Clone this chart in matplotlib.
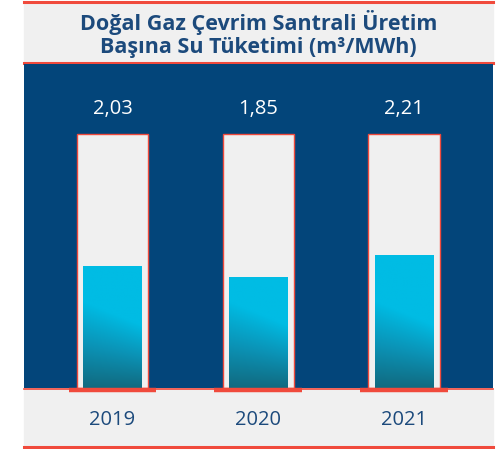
import numpy as np
import matplotlib
matplotlib.use("Agg")
import matplotlib.pyplot as plt
from matplotlib.colors import LinearSegmentedColormap
from matplotlib.patches import Rectangle
from matplotlib.lines import Line2D

years = ["2019", "2020", "2021"]
values = [2.03, 1.85, 2.21]
value_labels = ["2,03", "1,85", "2,21"]
title = "Doğal Gaz Çevrim Santrali Üretim\nBaşına Su Tüketimi (m³/MWh)"

NAVY = "#03457a"
RED = "#f04a3c"
GRAY = "#f0f0f0"
TXT = "#1c4a7c"
cmap = LinearSegmentedColormap.from_list("g", ["#116a80", "#0b93b6", "#00bce4"])

plt.rcParams["font.family"] = ["Open Sans", "DejaVu Sans"]

W, H = 497, 449
fig = plt.figure(figsize=(W / 100, H / 100), dpi=100)
fig.patch.set_facecolor("white")


def fx(x):
    return x / W


def fy(y):
    return 1 - y / H


# header and footer bands
fig.add_artist(Rectangle((fx(24), fy(62)), fx(469), 59 / H, color=GRAY,
                         transform=fig.transFigure, zorder=-2))
fig.add_artist(Rectangle((fx(24), fy(446)), fx(469), 57 / H, color=GRAY,
                         transform=fig.transFigure, zorder=-2))
for y, lw in [(2, 2.2), (62.5, 2.2), (388.5, 1.2), (446.5, 2.2)]:
    fig.add_artist(Line2D([fx(24), fx(493)], [fy(y), fy(y)], color=RED, lw=lw,
                          transform=fig.transFigure, zorder=-1))

fig.text(0.5 * (fx(24) + fx(493)), fy(34), title, ha="center", va="center",
         fontsize=15.5, fontweight="bold", color=TXT, linespacing=1.15)

scale = 59.8  # px per unit
ax = fig.add_axes([fx(24), fy(388), fx(469), 324 / H])
ax.set_facecolor(NAVY)
ax.set_xticks([])
ax.set_yticks([])
for s in ax.spines.values():
    s.set_visible(False)

x = np.arange(len(years))
frame_top = 254 / scale
ax.bar(x, frame_top, width=0.49, color=GRAY, edgecolor=RED, linewidth=1.0, zorder=1)

bw = 0.40
for xi, v in zip(x, values):
    u = np.linspace(0, 1, 60)
    yy = np.linspace(0, v, 200)
    U, Y = np.meshgrid(u, yy)
    t = np.clip(Y / (1.45 - 0.4 * U), 0, 1)
    ax.imshow(t, extent=[xi - bw / 2, xi + bw / 2, 0, v], origin="lower", cmap=cmap,
              vmin=0, vmax=1, aspect="auto", zorder=2, interpolation="bilinear")
    ax.plot([xi - 0.3, xi + 0.3], [-2.2 / scale] * 2, color=RED, lw=3.2, clip_on=False,
            solid_capstyle="butt", zorder=5)

for xi, lab, yr in zip(x, value_labels, years):
    ax.text(xi, (388 - 109) / scale, lab, ha="center", va="center", color="white", fontsize=14.5)
    ax.text(xi, (388 - 420) / scale, yr, ha="center", va="center", color=TXT, fontsize=14.5,
            clip_on=False)

ax.set_xlim(-0.607, 2.611)
ax.set_ylim(0, 324 / scale)
fig.savefig("out.png", dpi=100)
